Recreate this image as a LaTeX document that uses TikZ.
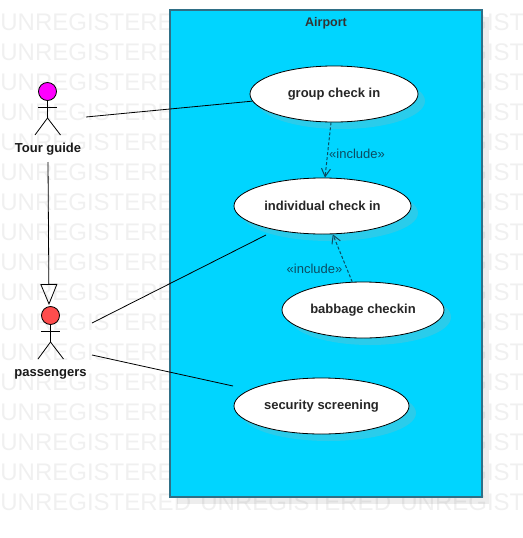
\documentclass[tikz,border=0pt]{standalone}
\usepackage{fontspec}
\setmainfont{Liberation Sans}
\usetikzlibrary{shapes.geometric,shadows,arrows.meta}
\definecolor{framefill}{HTML}{00D5FF}
\definecolor{frameline}{HTML}{2F6F86}
\definecolor{ellipseshadow}{HTML}{2ACCEB}
\definecolor{markgray}{HTML}{F0F0F0}
\definecolor{includeink}{HTML}{0B4C62}
\definecolor{tourpink}{HTML}{FF00FF}
\definecolor{passengerred}{HTML}{FF4D4D}
\tikzset{
    markword/.style={anchor=west, inner sep=0pt, text=markgray, font=\fontsize{24}{28}\selectfont},
    usecase/.style={ellipse, draw=black, fill=white, inner sep=0pt, minimum height=56pt,
        font=\fontsize{13}{15}\selectfont\bfseries, text=black!85,
        drop shadow={shadow xshift=7pt, shadow yshift=-7pt, fill=ellipseshadow, opacity=1}},
    actorhead/.style={circle, draw=black, inner sep=0pt, minimum size=18pt},
    actorname/.style={font=\fontsize{13}{15}\selectfont\bfseries, text=black!90},
    includeword/.style={font=\fontsize{13}{15}\selectfont, text=includeink},
    includeline/.style={dashed, dash pattern=on 3pt off 2pt, draw=includeink, line width=1pt,
        -{Straight Barb[length=8pt,width=9pt]}}
}
\begin{document}
\begin{tikzpicture}[x=1pt, y=-1pt, line width=0.8pt]
\useasboundingbox (0, 0) rectangle (522, 538);
\foreach \rowy in {22,52,...,502}
    \foreach \colx in {0,400}
        \node[markword] (mark\colx-\rowy) at (\colx, \rowy){UNREGISTERED};
\node[markword] (markbottom) at (200, 502){UNREGISTERED};

\node[rectangle, draw=frameline, fill=framefill, line width=1.2pt, minimum width=312pt, minimum height=487pt, inner sep=0pt,
    drop shadow={shadow xshift=7pt, shadow yshift=-7pt, fill=black, opacity=0.07}] (airport) at (326, 253.5){};
\node[font=\fontsize{12.5}{14}\selectfont\bfseries, text=black!80] (airportname) at (326, 23.5){Airport};

\node[usecase, minimum width=168pt] (groupcheck) at (334, 94){group check in};
\node[usecase, minimum width=177pt] (individualcheck) at (322.5, 206){individual check in};
\node[usecase, minimum width=162pt] (babbagecheck) at (363, 310){babbage checkin};
\node[usecase, minimum width=175pt] (securitycheck) at (321.5, 406){security screening};

% tour guide
\node[actorhead, fill=tourpink] (tourhead) at (47.5, 91.5){};
\coordinate (tourarmleft) at (38, 107);
\coordinate (tourarmright) at (57, 107);
\coordinate (tourfork) at (47.5, 118);
\coordinate (tourlegleft) at (35, 135);
\coordinate (tourlegright) at (60.5, 135);
\draw(tourhead) -- (tourfork);
\draw(tourarmleft) -- (tourarmright);
\draw(tourfork) -- (tourlegleft);
\draw(tourfork) -- (tourlegright);
\node[actorname] (tourname) at (48, 149.5){Tour guide};

% passengers
\node[actorhead, fill=passengerred] (passengerhead) at (50.5, 315.5){};
\coordinate (passengerarmleft) at (41, 331);
\coordinate (passengerarmright) at (60, 331);
\coordinate (passengerfork) at (50.5, 342);
\coordinate (passengerlegleft) at (38, 359);
\coordinate (passengerlegright) at (63.5, 359);
\draw(passengerhead) -- (passengerfork);
\draw(passengerarmleft) -- (passengerarmright);
\draw(passengerfork) -- (passengerlegleft);
\draw(passengerfork) -- (passengerlegright);
\node[actorname] (passengername) at (50.5, 374.5){passengers};

\coordinate (tourright) at (86, 117);
\coordinate (tourbelow) at (48, 162);
\coordinate (passengerabove) at (49, 305);
\coordinate (passengerupper) at (92, 323);
\coordinate (passengerlower) at (92, 355);
\coordinate (individualfree) at (266, 235);
\coordinate (securityfree) at (233, 386);
\draw(tourright) -- (groupcheck.185);
\draw[-{Triangle[open,length=21pt,width=17pt]}] (tourbelow) -- (passengerabove);
\draw(passengerupper) -- (individualfree);
\draw(passengerlower) -- (securityfree);

\draw[includeline] (groupcheck.264) -- (individualcheck.85);
\draw[includeline] (babbagecheck.111) -- (individualcheck.290);
\node[includeword] (includeupper) at (357, 153.5){«include»};
\node[includeword] (includelower) at (314.5, 268.5){«include»};
\end{tikzpicture}
\end{document}
